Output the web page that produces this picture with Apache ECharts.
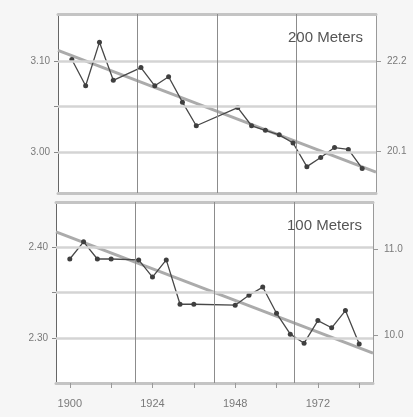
<!DOCTYPE html>
<html><head><meta charset="utf-8">
<script src="https://cdn.jsdelivr.net/npm/echarts@6/dist/echarts.min.js"></script>
<style>html,body{margin:0;padding:0;background:#f6f6f6}#c{width:413px;height:417px}</style>
</head><body><div id="c"></div>
<script>
// Olympic years
const years = [1900,1904,1908,1912,1920,1924,1928,1932,1936,1948,1952,1956,1960,1964,1968,1972,1976,1980,1984];
// log of winning time
const log200 = [3.102,3.073,3.121,3.079,3.093,3.073,3.083,3.055,3.029,3.049,3.029,3.024,3.019,3.010,2.984,2.994,3.005,3.003,2.982];
const log100 = [2.387,2.406,2.387,2.387,2.386,2.367,2.386,2.337,2.337,2.336,2.347,2.356,2.327,2.304,2.294,2.319,2.311,2.330,2.293];
// fitted trend lines (end points)
const trendYears = [1896, 1988];
const trend200 = [3.112, 2.978];
const trend100 = [2.417, 2.283];
// axes
const xTickYears = [1900,1912,1924,1936,1948,1960,1972,1984];
const xLabelYears = [1900,1924,1948,1972];
const vGridYears = [1919,1942,1965];
const leftTicks200 = [3.00,3.05,3.10];
const leftLabels200 = [3.00,3.10];
const leftTicks100 = [2.30,2.35,2.40];
const leftLabels100 = [2.30,2.40];
const rightLabels200 = [22.2,20.1];
const rightLabels100 = [11.0,10.0];
const panelTitles = ['200 Meters','100 Meters'];

const pair = (xs, ys) => xs.map((x,i)=>[x, ys[i]]);
const FONT = 'Liberation Sans';
const labelColor = '#7a7a7a';

function xAxes(gi, showLabels) {
  return [
    { gridIndex: gi, type:'value', min:1896, max:1988, position:'bottom',
      axisLine:{show:true, lineStyle:{color:'#c4c4c4', width:3}},
      axisTick:{show:showLabels, customValues: xTickYears, length:5, lineStyle:{color:'#999', width:1}},
      axisLabel:{show:showLabels, customValues: xLabelYears, margin:15, fontSize:11, color:labelColor, fontFamily:FONT,
        formatter: v => String(Math.round(v))},
      splitLine:{show:false} },
    { gridIndex: gi, type:'value', min:1896, max:1988, position:'top',
      axisLine:{show:true, lineStyle:{color:'#c4c4c4', width:3}},
      axisTick:{show:false}, axisLabel:{show:false}, splitLine:{show:false} }
  ];
}
function yAxes(gi, min, max, ticks, labels, rightVals) {
  return [
    { gridIndex: gi, type:'value', min, max, position:'left',
      axisLine:{show:true, lineStyle:{color:'#666', width:1}},
      axisTick:{show:true, customValues: ticks, length:4, lineStyle:{color:'#888'}},
      axisLabel:{customValues: labels, margin:8, fontSize:10, color:labelColor, fontFamily:FONT,
        formatter: v => v.toFixed(2)},
      splitLine:{show:false} },
    { gridIndex: gi, type:'value', min, max, position:'right',
      axisLine:{show:true, lineStyle:{color:'#9a9a9a', width:1}},
      axisTick:{show:true, customValues: rightVals.map(Math.log), length:5, lineStyle:{color:'#999'}},
      axisLabel:{customValues: rightVals.map(Math.log), margin:11, fontSize:10, color:labelColor, fontFamily:FONT,
        formatter: v => Math.exp(v).toFixed(1)},
      splitLine:{show:false} }
  ];
}
function gridLines(xi, yi, hVals) {
  return { type:'line', xAxisIndex:xi, yAxisIndex:yi, data:[], z:1, silent:true,
    markLine:{ silent:true, symbol:'none', animation:false, label:{show:false},
      data: [
        ...hVals.map(v=>({yAxis:v, lineStyle:{color:'#d4d4d4', width:2.5, type:'solid'}})),
        ...vGridYears.map(y=>({xAxis:y, lineStyle:{color:'#8c8c8c', width:1, type:'solid'}}))
      ] } };
}
function trendSeries(xi, yi, vals) {
  return { type:'line', xAxisIndex:xi, yAxisIndex:yi, data: pair(trendYears, vals), z:2,
    symbol:'none', lineStyle:{color:'#ababab', width:3}, silent:true };
}
function dataSeries(xi, yi, vals) {
  return { type:'line', xAxisIndex:xi, yAxisIndex:yi, data: pair(years, vals), z:3,
    symbol:'circle', symbolSize:5, itemStyle:{color:'#3f3f3f'}, lineStyle:{color:'#484848', width:1.3} };
}

const chart = echarts.init(document.getElementById('c'));
chart.setOption({
  animation:false,
  backgroundColor:'#f6f6f6',
  title: [
    { text: panelTitles[0], right: 45, top: 25, textStyle:{fontSize:15, fontWeight:'normal', color:'#555', fontFamily:FONT} },
    { text: panelTitles[1], right: 46, top: 213, textStyle:{fontSize:15, fontWeight:'normal', color:'#555', fontFamily:FONT} }
  ],
  grid: [
    { left:58, top:14, width:318, height:179, show:true, backgroundColor:'#ffffff', borderWidth:0 },
    { left:56, top:202, width:317, height:181, show:true, backgroundColor:'#ffffff', borderWidth:0 }
  ],
  xAxis: [...xAxes(0,false), ...xAxes(1,true)],
  yAxis: [...yAxes(0, 2.955, 3.152, leftTicks200, leftLabels200, rightLabels200),
          ...yAxes(1, 2.25, 2.45, leftTicks100, leftLabels100, rightLabels100)],
  series: [
    gridLines(0, 0, leftTicks200), trendSeries(0, 0, trend200), dataSeries(0, 0, log200),
    gridLines(2, 2, leftTicks100), trendSeries(2, 2, trend100), dataSeries(2, 2, log100)
  ]
});
</script></body></html>
